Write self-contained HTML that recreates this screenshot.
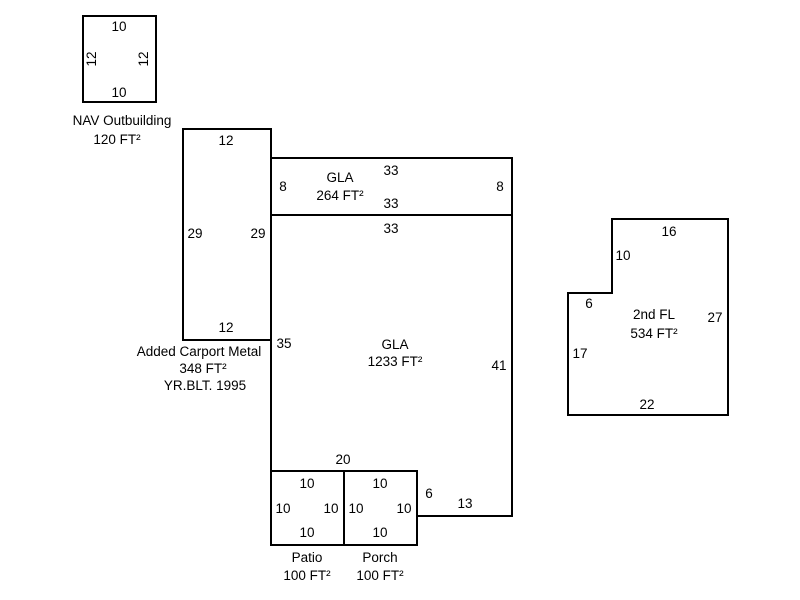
<!DOCTYPE html>
<html><head><style>body{margin:0;background:#fff}svg{display:block}text{font-family:"Liberation Sans",Arial,sans-serif;font-size:13.5px;fill:#000}</style></head>
<body>
<svg width="800" height="600" xmlns="http://www.w3.org/2000/svg">
<g fill="none" stroke="#000" stroke-width="2">
<rect x="83" y="16" width="73" height="86"/>
<rect x="183" y="129" width="88" height="211"/>
<rect x="271" y="158" width="241" height="57"/>
<polyline points="271,215 512,215 512,516 417,516"/>
<line x1="271" y1="215" x2="271" y2="471"/>
<rect x="271" y="471" width="73" height="74"/>
<rect x="344" y="471" width="73" height="74"/>
<polygon points="612,219 728,219 728,415 568,415 568,293 612,293"/>
</g>
<g text-anchor="middle">
<text x="119" y="31">10</text>
<text x="119" y="97">10</text>
<text transform="translate(96,59) rotate(-90)">12</text>
<text transform="translate(148,59) rotate(-90)">12</text>
<text x="122" y="125">NAV Outbuilding</text>
<text x="117" y="144">120 FT²</text>
<text x="226" y="145">12</text>
<text x="195" y="238">29</text>
<text x="258" y="238">29</text>
<text x="226" y="332">12</text>
<text x="199" y="356">Added Carport Metal</text>
<text x="203" y="373">348 FT²</text>
<text x="205" y="390">YR.BLT. 1995</text>
<text x="340" y="182">GLA</text>
<text x="340" y="200">264 FT²</text>
<text x="391" y="175">33</text>
<text x="391" y="208">33</text>
<text x="283" y="191">8</text>
<text x="500" y="191">8</text>
<text x="391" y="233">33</text>
<text x="284" y="348">35</text>
<text x="395" y="349">GLA</text>
<text x="395" y="366">1233 FT²</text>
<text x="499" y="370">41</text>
<text x="343" y="464">20</text>
<text x="429" y="498">6</text>
<text x="465" y="508">13</text>
<text x="307" y="488">10</text>
<text x="307" y="537">10</text>
<text x="283" y="513">10</text>
<text x="331" y="513">10</text>
<text x="380" y="488">10</text>
<text x="380" y="537">10</text>
<text x="356" y="513">10</text>
<text x="404" y="513">10</text>
<text x="307" y="562">Patio</text>
<text x="307" y="580">100 FT²</text>
<text x="380" y="562">Porch</text>
<text x="380" y="580">100 FT²</text>
<text x="669" y="236">16</text>
<text x="623" y="260">10</text>
<text x="589" y="308">6</text>
<text x="654" y="319">2nd FL</text>
<text x="654" y="338">534 FT²</text>
<text x="715" y="322">27</text>
<text x="580" y="358">17</text>
<text x="647" y="409">22</text>
</g>
</svg>
</body></html>
